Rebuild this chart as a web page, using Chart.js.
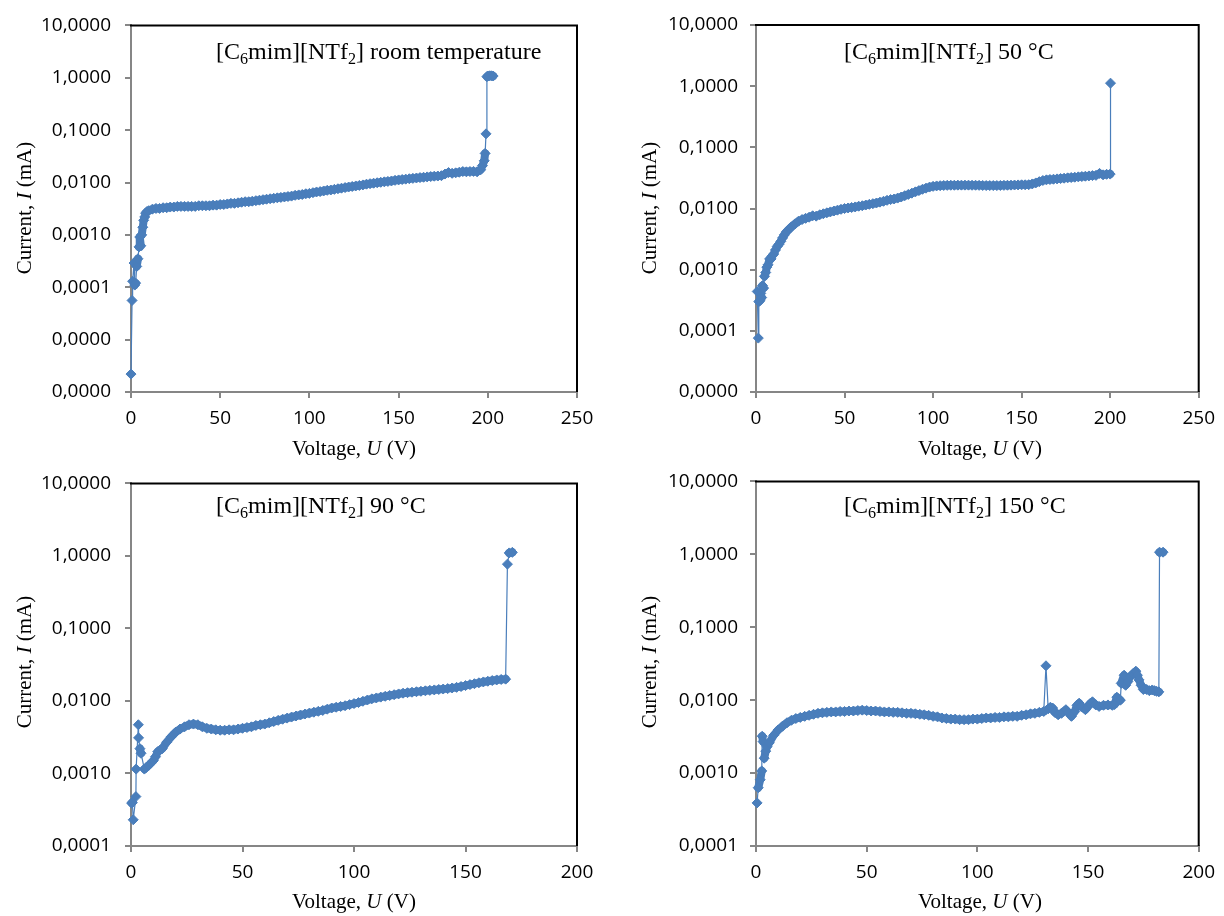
<!DOCTYPE html>
<html>
<head>
<meta charset="utf-8">
<script src="https://cdn.jsdelivr.net/npm/chart.js@4.4.0/dist/chart.umd.min.js"></script>
<style>
body { margin: 0; background: #fff; }
#page { position: relative; width: 1224px; height: 916px; overflow: hidden; }
canvas { position: absolute; }
.note { position: absolute; font-family: "Liberation Serif", serif; font-size: 24px; line-height: 24px; white-space: nowrap; color: #000; }
.note sub { font-size: 0.67em; vertical-align: -0.28em; line-height: 0; }
.ytitle, .xtitle { position: absolute; font-family: "Liberation Serif", serif; font-size: 21px; line-height: 21px; white-space: nowrap; color: #000; }
.ytitle { transform: translate(-50%, -50%) rotate(-90deg); }
.xtitle { transform: translate(-50%, -50%); }
</style>
</head>
<body>
<div id="page">
  <canvas id="c1" width="612" height="458" style="left:0;top:0"></canvas>
  <canvas id="c2" width="612" height="458" style="left:612px;top:0"></canvas>
  <canvas id="c3" width="612" height="458" style="left:0;top:458px"></canvas>
  <canvas id="c4" width="612" height="458" style="left:612px;top:458px"></canvas>

  <div class="note" style="left:216px;top:39px">[C<sub>6</sub>mim][NTf<sub>2</sub>] room temperature</div>
  <div class="note" style="left:844px;top:39px">[C<sub>6</sub>mim][NTf<sub>2</sub>] 50 °C</div>
  <div class="note" style="left:216px;top:493px">[C<sub>6</sub>mim][NTf<sub>2</sub>] 90 °C</div>
  <div class="note" style="left:844px;top:493px">[C<sub>6</sub>mim][NTf<sub>2</sub>] 150 °C</div>

  <div class="ytitle" style="left:24px;top:208px">Current, <i>I</i> (mA)</div>
  <div class="ytitle" style="left:649px;top:208px">Current, <i>I</i> (mA)</div>
  <div class="ytitle" style="left:24px;top:662px">Current, <i>I</i> (mA)</div>
  <div class="ytitle" style="left:649px;top:662px">Current, <i>I</i> (mA)</div>

  <div class="xtitle" style="left:354px;top:448px">Voltage, <i>U</i> (V)</div>
  <div class="xtitle" style="left:980px;top:448px">Voltage, <i>U</i> (V)</div>
  <div class="xtitle" style="left:354px;top:901px">Voltage, <i>U</i> (V)</div>
  <div class="xtitle" style="left:980px;top:901px">Voltage, <i>U</i> (V)</div>
</div>

<script>
// tick values
const ticksTop = [0.000001, 0.00001, 0.0001, 0.001, 0.01, 0.1, 1, 10];
const ticks50 = [0.00001, 0.0001, 0.001, 0.01, 0.1, 1, 10];
const ticksBottom = [0.0001, 0.001, 0.01, 0.1, 1, 10];

// room temperature, U (V) / I (mA)
const rtVoltage = [0, 0.6, 0.9, 1.7, 2.1, 2.6, 3.2, 3.9, 4.5, 4.9, 5.5, 6.0, 6.6, 7.1, 7.7, 8.2, 9.0,
  10, 12, 14, 16, 18, 20, 22, 24, 26, 28, 30, 32, 34, 36, 38, 40, 42, 44, 46, 48,
  50, 52, 54, 56, 58, 60, 62, 64, 66, 68, 70, 72, 74, 76, 78, 80, 82, 84, 86, 88,
  90, 92, 94, 96, 98, 100, 102, 104, 106, 108, 110, 112, 114, 116, 118, 120, 122, 124, 126, 128,
  130, 132, 134, 136, 138, 140, 142, 144, 146, 148, 150, 152, 154, 156, 158, 160, 162, 164, 166, 168,
  170, 172, 174, 176, 178, 180, 182, 184, 186, 188, 190, 192, 194, 196,
  197, 198, 198.5, 199, 199.5, 200, 201, 202, 203];
const rtCurrent = [0.0000022, 0.000056, 0.00013, 0.00029, 0.00011, 0.00012, 0.00025, 0.00035, 0.00059, 0.00091, 0.00062, 0.0010, 0.0014, 0.0019, 0.0022, 0.0026, 0.0028,
  0.0029, 0.0031, 0.0032, 0.0032, 0.0033, 0.0033, 0.0034, 0.0034, 0.0035, 0.0035,
  0.0035, 0.0035, 0.0035, 0.0035, 0.0036, 0.0036, 0.0036, 0.0036, 0.0037, 0.0037,
  0.0038, 0.0038, 0.0039, 0.0040, 0.0040, 0.0041, 0.0042, 0.0043, 0.0043, 0.0044,
  0.0045, 0.0046, 0.0047, 0.0048, 0.0049, 0.0050, 0.0051, 0.0052, 0.0053, 0.0054,
  0.0055, 0.0057, 0.0058, 0.0059, 0.0061, 0.0062, 0.0064, 0.0066, 0.0067, 0.0069,
  0.0071, 0.0072, 0.0074, 0.0076, 0.0078, 0.0080, 0.0082, 0.0084, 0.0086, 0.0088,
  0.0090, 0.0093, 0.0095, 0.0097, 0.0099, 0.0101, 0.0103, 0.0105, 0.0107, 0.0110,
  0.0112, 0.0114, 0.0116, 0.0118, 0.0120, 0.0122, 0.0124, 0.0126, 0.0128, 0.0130,
  0.0132, 0.0133, 0.0135, 0.0145, 0.0155, 0.0150, 0.0153, 0.0157, 0.0162, 0.0160,
  0.0162, 0.0163, 0.0160, 0.0175,
  0.021, 0.026, 0.036, 0.085, 1.05, 1.08, 1.09, 1.09, 1.08];

// 50 °C
const c50Voltage = [0.7, 1.3, 1.6, 2.2, 2.7, 3.2, 3.7, 4.3, 4.8, 5.5, 6.1, 6.8, 7.7, 8.5, 9.3,
  10, 11, 12, 13, 14, 15, 16, 17, 18, 19, 20,
  22, 24, 26, 28, 30, 32, 34, 36, 38, 40, 42, 44, 46, 48, 50, 52, 54, 56, 58, 60,
  62, 64, 66, 68, 70, 72, 74, 76, 78, 80, 82, 84, 86, 88, 90, 92, 94, 96, 98, 100,
  102, 104, 106, 108, 110, 112, 114, 116, 118, 120, 122, 124, 126, 128, 130, 132, 134, 136, 138, 140,
  142, 144, 146, 148, 150, 152, 154, 156, 158, 160, 162, 164, 166, 168, 170, 172, 174, 176, 178, 180,
  182, 184, 186, 188, 190, 192, 194, 196, 198, 200, 200.2];
const c50Current = [0.00044, 0.000076, 0.00030, 0.00031, 0.00041, 0.00035, 0.00055, 0.00050, 0.00078, 0.00090, 0.0011, 0.0012, 0.0015, 0.0015, 0.0017,
  0.0018, 0.0021, 0.0024, 0.0026, 0.0029, 0.0033, 0.0037, 0.0041, 0.0044, 0.0047, 0.0050,
  0.0056, 0.0062, 0.0066, 0.0069, 0.0072, 0.0076, 0.0075, 0.0079, 0.0082, 0.0085,
  0.0088, 0.0091, 0.0094, 0.0097, 0.0100, 0.0102, 0.0104, 0.0106, 0.0109, 0.0111,
  0.0114, 0.0117, 0.0120, 0.0123, 0.0127, 0.0131, 0.0136, 0.0140, 0.0143, 0.0148,
  0.0154, 0.0162, 0.0170, 0.0178, 0.0187, 0.0196, 0.0206, 0.0215, 0.0224, 0.0230,
  0.0234, 0.0236, 0.0238, 0.0239, 0.0240, 0.0240, 0.0241, 0.0241, 0.0241, 0.0241,
  0.0240, 0.0240, 0.0239, 0.0238, 0.0237, 0.0237, 0.0237, 0.0237, 0.0238, 0.0239,
  0.0240, 0.0241, 0.0242, 0.0243, 0.0244, 0.0244, 0.0245, 0.0252, 0.0262, 0.0275,
  0.0287, 0.0294, 0.0298, 0.0301, 0.0305, 0.0309, 0.0313, 0.0317, 0.0321, 0.0325,
  0.0329, 0.0333, 0.0337, 0.0341, 0.0345, 0.0348, 0.0375, 0.0355, 0.0362, 0.0365, 1.12];

// 90 °C
const c90Voltage = [0.3, 0.6, 1.0, 2.2, 2.3, 3.3, 3.4, 4.0, 4.5, 6.0, 6.7, 8, 9,
  10, 11, 12, 13, 14, 16, 18, 20, 22, 24, 26, 28, 30, 32, 34, 36, 38, 40, 42, 44, 46, 48,
  50, 52, 54, 56, 58, 60, 62, 64, 66, 68, 70, 72, 74, 76, 78, 80, 82, 84, 86, 88,
  90, 92, 94, 96, 98, 100, 102, 104, 106, 108, 110, 112, 114, 116, 118, 120, 122, 124, 126, 128,
  130, 132, 134, 136, 138, 140, 142, 144, 146, 148, 150, 152, 154, 156, 158, 160, 162, 164, 166, 168,
  168.8, 169.6, 171];
const c90Current = [0.00039, 0.00040, 0.00023, 0.00048, 0.00115, 0.0047, 0.0031, 0.0022, 0.0019, 0.00115, 0.0012, 0.0013, 0.0014,
  0.0015, 0.0017, 0.0020, 0.0021, 0.0022, 0.0027, 0.0032, 0.0037, 0.0041, 0.0044, 0.0047, 0.0048,
  0.0047, 0.0044, 0.0042, 0.0041, 0.0040, 0.00395, 0.00395, 0.0040, 0.0040, 0.0041,
  0.0042, 0.0043, 0.0044, 0.0046, 0.0047, 0.0048, 0.0050, 0.0052, 0.0054, 0.0056,
  0.0058, 0.0060, 0.0062, 0.0064, 0.0066, 0.0068, 0.0070, 0.0072, 0.0074, 0.0077,
  0.0080, 0.0082, 0.0084, 0.0086, 0.0089, 0.0092, 0.0095, 0.0099, 0.0103, 0.0107,
  0.0110, 0.0113, 0.0116, 0.0119, 0.0122, 0.0125, 0.0128, 0.0130, 0.0132, 0.0134,
  0.0136, 0.0138, 0.0140, 0.0142, 0.0144, 0.0146, 0.0148, 0.0151, 0.0154, 0.0158,
  0.0163, 0.0168, 0.0173, 0.0178, 0.0183, 0.0187, 0.0191, 0.0195, 0.0198, 0.0200,
  0.77, 1.10, 1.12];

// 150 °C
const c150Voltage = [0.5, 1.0, 1.9, 2.6, 2.8, 3.2, 3.7, 4.4, 5.0,
  6, 8, 10, 12, 14, 16, 18, 20, 22, 24, 26, 28, 30, 32, 34, 36, 38, 40, 42, 44,
  46, 48, 50, 52, 54, 56, 58, 60, 62, 64, 66, 68, 70, 72, 74, 76, 78, 80, 82, 84,
  86, 88, 90, 92, 94, 96, 98, 100, 102, 104, 106, 108, 110, 112, 114, 116, 118, 120, 122, 124,
  126, 128, 130, 131, 132, 133, 134, 135, 136.5, 138, 140, 141, 142.5, 144, 145, 146, 147, 148.8,
  150, 151, 152, 153.5, 155, 157, 159, 161, 162, 163, 164.6, 165, 166.3, 167, 168, 169, 170.3, 171.6,
  172.3, 173, 174, 175, 176.5, 177.7, 179, 180, 181, 182, 182.3, 183.9];
const c150Current = [0.00039, 0.00063, 0.00081, 0.00107, 0.0032, 0.0027, 0.0016, 0.0020, 0.0023,
  0.0026, 0.0033, 0.0039, 0.0044, 0.0049, 0.0053, 0.0056, 0.0058, 0.0060, 0.0062,
  0.0064, 0.0066, 0.0067, 0.0068, 0.0069, 0.0069, 0.0070, 0.0070, 0.0071, 0.0071,
  0.0072, 0.0073, 0.0072, 0.0071, 0.0071, 0.0070, 0.0069, 0.0069, 0.0068, 0.0068,
  0.0067, 0.0066, 0.0066, 0.0065, 0.0064, 0.0063, 0.0062, 0.0060, 0.0059, 0.0057,
  0.0056, 0.0055, 0.0055, 0.0054, 0.0054, 0.0054, 0.0055, 0.0055, 0.0056, 0.0057,
  0.0057, 0.0058, 0.0058, 0.0059, 0.0059, 0.0060, 0.0060, 0.0062, 0.0063, 0.0065,
  0.0066, 0.0068, 0.0070, 0.0296, 0.0076, 0.0080, 0.0078, 0.0068, 0.0063, 0.0066, 0.0074, 0.0068, 0.0060, 0.0070, 0.0085, 0.0091, 0.0082, 0.0074,
  0.0082, 0.0090, 0.0095, 0.0086, 0.0082, 0.0085, 0.0086, 0.0085, 0.0087, 0.0110, 0.0100, 0.0170, 0.0220, 0.0160, 0.0180, 0.0210, 0.0230, 0.0250,
  0.0220, 0.0190, 0.0160, 0.0140, 0.0140, 0.0135, 0.0138, 0.0135, 0.0132, 0.0130, 1.07, 1.07];

const blue = '#4a7ebb';
const axisGray = '#868686';
const tickFont = { family: 'Open Sans', size: 19 };

// top and right edges of the plot area
const framePlugin = {
  id: 'frame',
  afterDatasetsDraw(chart) {
    const { ctx, chartArea: a } = chart;
    ctx.save();
    ctx.strokeStyle = '#000';
    ctx.lineWidth = 2;
    ctx.beginPath();
    ctx.moveTo(a.left - 1, a.top);
    ctx.lineTo(a.right, a.top);
    ctx.lineTo(a.right, a.bottom);
    ctx.stroke();
    ctx.restore();
  }
};

// dense runs of readings merge into a thick band, long jumps stay thin
function segWidth(ctx) {
  const d = Math.hypot(ctx.p1.x - ctx.p0.x, ctx.p1.y - ctx.p0.y);
  return d < 10 ? 8 : 1.2;
}

function drawPanel(id, voltage, current, xMax, yTicks, box) {
  const points = voltage.map((v, i) => ({ x: v, y: current[i] }));
  new Chart(document.getElementById(id), {
    type: 'scatter',
    data: {
      datasets: [{
        data: points,
        showLine: true,
        borderColor: blue,
        backgroundColor: blue,
        borderWidth: 1.2,
        borderJoinStyle: 'round',
        borderCapStyle: 'round',
        segment: { borderWidth: segWidth },
        pointStyle: 'rectRot',
        pointRadius: 5,
        pointBorderWidth: 1,
        pointBorderColor: blue,
        pointBackgroundColor: blue,
        clip: false
      }]
    },
    options: {
      responsive: false,
      animation: false,
      events: [],
      layout: { padding: { top: box.top, right: box.right, left: 0, bottom: 0 } },
      plugins: { legend: { display: false }, tooltip: { enabled: false } },
      scales: {
        x: {
          type: 'linear',
          min: 0,
          max: xMax,
          afterFit: s => { s.height = box.xh; },
          ticks: { stepSize: 50, padding: 9, color: '#000', font: tickFont },
          grid: { drawOnChartArea: false, tickLength: 6, color: axisGray, lineWidth: 2 },
          border: { color: axisGray, width: 2 }
        },
        y: {
          type: 'logarithmic',
          min: yTicks[0],
          max: yTicks[yTicks.length - 1],
          afterFit: s => { s.width = box.yw; },
          afterBuildTicks: s => { s.ticks = yTicks.map(v => ({ value: v })); },
          ticks: {
            callback: v => Number(v).toFixed(4).replace('.', ','),
            padding: box.tp,
            color: '#000',
            font: tickFont
          },
          grid: { drawOnChartArea: false, tickLength: 6, color: axisGray, lineWidth: 2 },
          border: { color: axisGray, width: 2 }
        }
      }
    },
    plugins: [framePlugin]
  });
}

drawPanel('c1', rtVoltage, rtCurrent, 250, ticksTop, { top: 25, right: 35, yw: 131, xh: 66, tp: 14 });
drawPanel('c2', c50Voltage, c50Current, 250, ticks50, { top: 25, right: 20, yw: 144, xh: 66, tp: 12 });
drawPanel('c3', c90Voltage, c90Current, 200, ticksBottom, { top: 20, right: 35, yw: 131, xh: 70, tp: 14 });
drawPanel('c4', c150Voltage, c150Current, 200, ticksBottom, { top: 20, right: 20, yw: 144, xh: 70, tp: 12 });
</script>
</body>
</html>
